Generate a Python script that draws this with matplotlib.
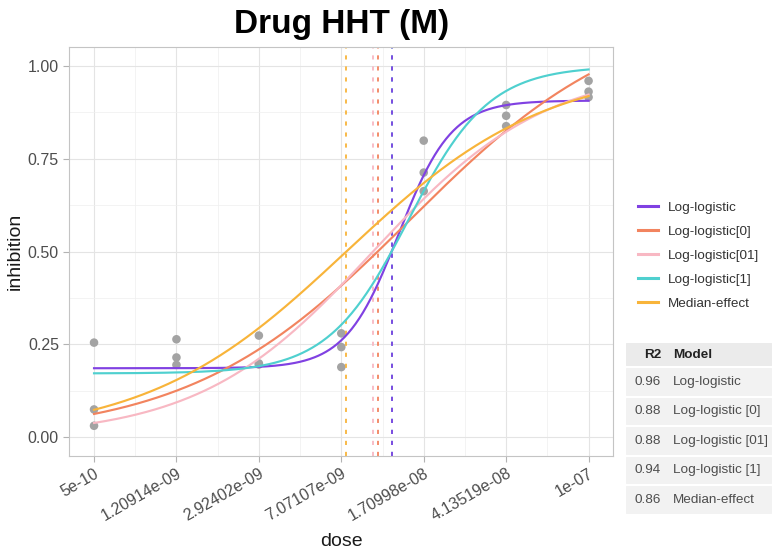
import numpy as np
import matplotlib
matplotlib.use("Agg")
import matplotlib.pyplot as plt
from matplotlib.patches import Rectangle

plt.rcParams['font.family'] = ['Liberation Sans', 'DejaVu Sans']

# measured doses and three replicate inhibitions
doses = [5e-10, 1.20914e-09, 2.92402e-09, 7.07107e-09, 1.70998e-08, 4.13519e-08, 1e-07]
dose_labels = ['5e-10', '1.20914e-09', '2.92402e-09', '7.07107e-09',
               '1.70998e-08', '4.13519e-08', '1e-07']
rep1 = [0.255, 0.264, 0.274, 0.280, 0.799, 0.895, 0.960]
rep2 = [0.075, 0.215, 0.199, 0.243, 0.713, 0.866, 0.931]
rep3 = [0.031, 0.195, 0.196, 0.189, 0.663, 0.838, 0.916]

# fitted models: bottom, top, e (midpoint dose), hill slope
models = ['Log-logistic', 'Log-logistic[0]', 'Log-logistic[01]',
          'Log-logistic[1]', 'Median-effect']
colors = ['#8041E2', '#F2845F', '#F8B8C3', '#4FD0CF', '#F8B43A']
bottom = [0.186, 0.0, 0.0, 0.172, 0.0]
top = [0.907, 1.17, 1.0, 1.0, 1.0]
e_mid = [1.305e-8, 1.473e-8, 9.925e-9, 1.453e-8, 7.456e-9]
hill = [3.51, 0.848, 1.076, 2.32, 0.935]
ic50 = [1.2125e-8, 1.043e-8, 9.93e-9, 1.223e-8, 7.45e-9]

# summary table
r2 = ['0.96', '0.88', '0.88', '0.94', '0.86']
model_names = ['Log-logistic', 'Log-logistic [0]', 'Log-logistic [01]',
               'Log-logistic [1]', 'Median-effect']


def loglogistic(x, b, t, e, h):
    return b + (t - b) / (1 + (e / x) ** h)


fig = plt.figure(figsize=(7.81, 5.57), dpi=100)
ax = fig.add_axes([69.3 / 781, 1 - 456 / 557, 544 / 781, 408.7 / 557])

ax.set_xscale('log')
lo, hi = np.log10(doses[0]), np.log10(doses[-1])
pad = 0.05 * (hi - lo)
ax.set_xlim(10 ** (lo - pad), 10 ** (hi + pad))
ax.set_ylim(-0.0504, 1.0504)

# grid
for d in doses:
    ax.axvline(d, color='#E4E4E4', lw=0.8, zorder=0)
logs = np.log10(doses)
for m in (logs[:-1] + logs[1:]) / 2:
    ax.axvline(10 ** m, color='#EFEFEF', lw=0.5, zorder=0)
for yv in [0, 0.25, 0.5, 0.75, 1.0]:
    ax.axhline(yv, color='#E4E4E4', lw=0.8, zorder=0)
for yv in [0.125, 0.375, 0.625, 0.875]:
    ax.axhline(yv, color='#EFEFEF', lw=0.5, zorder=0)

# points
for rep in (rep1, rep2, rep3):
    ax.scatter(doses, rep, s=38, color='#A3A3A3', edgecolors='none', zorder=2)

# curves
xs = np.logspace(lo, hi, 400)
for i in range(5):
    ax.plot(xs, loglogistic(xs, bottom[i], top[i], e_mid[i], hill[i]),
            color=colors[i], lw=1.55, label=models[i], zorder=3)

# IC50 lines
for i in [4, 2, 1, 3, 0]:
    ax.axvline(ic50[i], color=colors[i], lw=1.3, ls=(0, (2.3, 3.8)), zorder=2.5)

for s in ax.spines.values():
    s.set_color('#C4C4C4')
    s.set_linewidth(0.8)

ax.set_xticks(doses)
ax.set_xticklabels(dose_labels, rotation=30, ha='right', rotation_mode='anchor')
ax.minorticks_off()
ax.set_yticks([0, 0.25, 0.5, 0.75, 1.0])
ax.set_yticklabels(['0.00', '0.25', '0.50', '0.75', '1.00'])
ax.tick_params(axis='both', colors='#B3B3B3', labelcolor='#4D4D4D',
               labelsize=11.5, length=4, width=0.8)
ax.tick_params(axis='x', pad=3)

ax.set_xlabel('dose', fontsize=14, color='#1A1A1A')
ax.xaxis.set_label_coords(0.5, (456 - 542) / 408.7)
ax.xaxis.label.set_va('center')
ax.set_ylabel('inhibition', fontsize=14, color='#1A1A1A')
ax.yaxis.set_label_coords((15 - 69.3) / 544, 0.5)
ax.yaxis.label.set_va('center')

fig.text((69.3 + 613.3) / 2 / 781, 1 - 24 / 557, 'Drug HHT (M)',
         fontsize=24, fontweight='bold', ha='center', va='center')

leg = ax.legend(loc='center left', bbox_to_anchor=(638 / 781, 1 - 255.7 / 557),
                bbox_transform=fig.transFigure, frameon=False, fontsize=9.7,
                handlelength=1.5, handletextpad=0.75, labelspacing=0.85,
                borderpad=0, borderaxespad=0)
for ln in leg.get_lines():
    ln.set_linewidth(2.2)
for t in leg.get_texts():
    t.set_color('#333333')

# table
tx0, tx1 = 625, 773
row_edges = [342, 367, 396.5, 426, 455.5, 485, 514.5]
fs = 9.7
for r in range(6):
    ya, yb = row_edges[r], row_edges[r + 1]
    fc = '#EBEBEB' if r == 0 else '#F2F2F2'
    fig.patches.append(Rectangle((tx0 / 781, 1 - yb / 557), (tx1 - tx0) / 781,
                                 (yb - ya) / 557, transform=fig.transFigure,
                                 facecolor=fc, edgecolor='white', lw=1.5))
    yc = 1 - (ya + yb) / 2 / 557
    if r == 0:
        fig.text(661 / 781, yc, 'R2', fontsize=fs, fontweight='bold',
                 ha='right', va='center', color='#222222')
        fig.text(672.7 / 781, yc, 'Model', fontsize=fs, fontweight='bold',
                 ha='left', va='center', color='#222222')
    else:
        fig.text(661 / 781, yc, r2[r - 1], fontsize=fs, ha='right',
                 va='center', color='#4D4D4D')
        fig.text(672.7 / 781, yc, model_names[r - 1], fontsize=fs,
                 ha='left', va='center', color='#4D4D4D')

fig.savefig('out.png', dpi=100)
